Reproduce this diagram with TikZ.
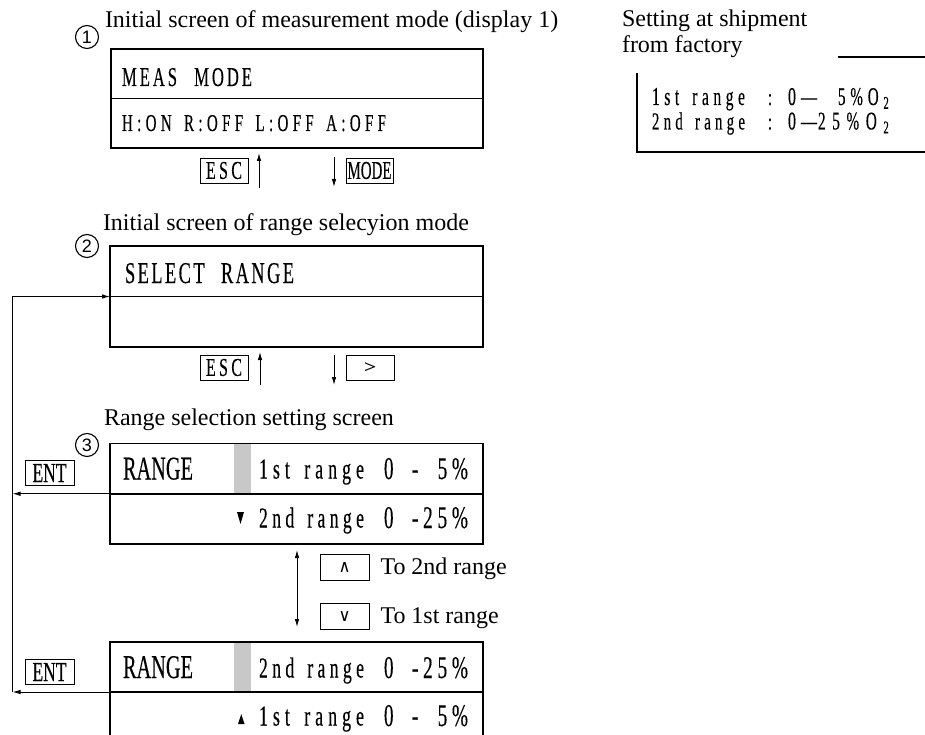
\documentclass[tikz,border=0pt]{standalone}
\usepackage{fontspec}
\setmainfont{Liberation Serif}
\newfontfamily\lcdf[FakeStretch=0.62,FakeBold=0.25]{Liberation Serif}
\newfontfamily\digf{Liberation Sans}
\newfontfamily\symf{DejaVu Sans}
\usetikzlibrary{arrows.meta}
\ExplSyntaxOn
\NewDocumentCommand{\spc}{m m}{\tl_map_inline:nn {#2}{##1\hspace{#1}}\unskip}
\ExplSyntaxOff
\newcommand{\lcd}[4][0em]{\resizebox{#2pt}{#3pt}{\lcdf\spc{#1}{#4}}}
\definecolor{lcdgrey}{RGB}{200,200,200}
\begin{document}
\begin{tikzpicture}[x=1pt,y=-1pt,
  lcdbox/.style={draw, line width=1.5pt, inner sep=0pt, outer sep=0pt, anchor=north west},
  keybox/.style={draw, line width=0.9pt, inner sep=0pt, outer sep=0pt},
  txt/.style={inner sep=0pt, outer sep=0pt, anchor=base west},
  circ/.style={draw, circle, line width=1.1pt, minimum size=23pt, inner sep=0pt, font=\digf\fontsize{18}{18}\selectfont},
  arr/.style={-{Latex[length=8pt,width=4.5pt]}, line width=0.9pt},
  darr/.style={{Latex[length=8pt,width=4.5pt]}-{Latex[length=8pt,width=4.5pt]}, line width=0.9pt},
  title/.style={inner sep=0pt, outer sep=0pt, anchor=base west, font=\fontsize{24}{28}\selectfont},
]
\useasboundingbox (0,0) rectangle (925,735);

% ---------- titles ----------
\node[title] (t1) at (105,28) {Initial screen of measurement mode (display 1)};
\node[title] (t2) at (103,230) {Initial screen of range selecyion mode};
\node[title] (t3) at (104,425) {Range selection setting screen};
\node[title] (t4) at (622,27) {Setting at shipment};
\node[title] (t5) at (622,53) {from factory};

% ---------- circled numbers ----------
\node[circ] (c1) at (87,37) {1};
\node[circ] (c2) at (87,246) {2};
\node[circ] (c3) at (87,445) {3};

% ---------- grey cursor bars ----------
\fill[lcdgrey] (233.5,443.5) rectangle (251,493.75);
\fill[lcdgrey] (233.5,642) rectangle (251,692);

% ---------- screens ----------
\node[lcdbox, minimum width=372pt, minimum height=99pt] (scr1) at (111,49) {};
\draw[line width=1.5pt] (scr1.west) -- (scr1.east);
\node[txt] (m1) at (122,86) {\lcd[0.11em]{130}{18}{MEAS~~MODE}};
\node[txt] (m2) at (122,131) {\lcd[0.18em]{264}{16}{H:ON~R:OFF~L:OFF~A:OFF}};

\node[lcdbox, minimum width=373pt, minimum height=101pt] (scr2) at (110,246) {};
\draw[line width=1.5pt] (scr2.west) -- (scr2.east);
\node[txt] (s1) at (125,283) {\lcd[0.08em]{169}{20}{SELECT~~RANGE}};

\node[lcdbox, minimum width=373pt, minimum height=100.5pt] (scr3) at (110,443.5) {};
\draw[line width=1.5pt] (scr3.west) -- (scr3.east);
\node[txt] (r3a) at (123,479.5) {\lcd{70}{22}{RANGE}};
\node[txt] (r3b) at (259,478.5) {\lcd[0.17em]{105}{19}{1st~range}};
\node[txt] (r3c) at (384,479) {\lcd{9.5}{21}{0}};
\node[txt] (r3e) at (412,479) {\lcd{56}{21}{{-\hspace{0.62em}5\hspace{0.15em}\%}}};
\fill (237,512) -- (244,512) -- (240.5,524) -- cycle;
\node[txt] (r3f) at (259,527.5) {\lcd[0.15em]{105}{20}{2nd~range}};
\node[txt] (r3g) at (384,528) {\lcd{9.5}{21}{0}};
\node[txt] (r3i) at (412,528) {\lcd[0.15em]{56}{21}{-25\%}};

\node[lcdbox, draw=none, minimum width=373pt, minimum height=100pt] (scr4) at (110,642) {};
\draw[line width=1.5pt] ([yshift=-43pt]scr4.west) -- (scr4.north west) -- (scr4.north east) -- ([yshift=-43pt]scr4.east);
\draw[line width=1.5pt] (scr4.west) -- (scr4.east);
\node[txt] (r4a) at (123,678) {\lcd{70}{22}{RANGE}};
\node[txt] (r4b) at (259,677.5) {\lcd[0.15em]{105}{20}{2nd~range}};
\node[txt] (r4c) at (384,678) {\lcd{9.5}{21}{0}};
\node[txt] (r4e) at (412,678) {\lcd[0.15em]{56}{21}{-25\%}};
\fill (238,724) -- (244.5,724) -- (241.25,714) -- cycle;
\node[txt] (r4f) at (259,725.5) {\lcd[0.17em]{105}{19}{1st~range}};
\node[txt] (r4g) at (384,726) {\lcd{9.5}{21}{0}};
\node[txt] (r4i) at (412,726) {\lcd{56}{21}{{-\hspace{0.62em}5\hspace{0.15em}\%}}};

% ---------- keys ----------
\node[keybox, minimum width=48pt, minimum height=25pt] (esc1) at (224,170.5) {\lcd[0.13em]{36}{17}{ESC}};
\node[keybox, minimum width=47pt, minimum height=25pt] (mode) at (369.5,170.5) {\lcd{44}{17}{MODE}};
\node[keybox, minimum width=48pt, minimum height=25pt] (esc2) at (224,367.5) {\lcd[0.13em]{36}{17}{ESC}};
\node[keybox, minimum width=48pt, minimum height=25pt] (right) at (370,367.5) {\resizebox{12pt}{10pt}{\lcdf >}};
\node[keybox, minimum width=49pt, minimum height=25.5pt] (ent1) at (49.5,473) {\lcd{34}{18}{ENT}};
\node[keybox, minimum width=49pt, minimum height=25.5pt] (ent2) at (49.5,672) {\lcd{34}{18}{ENT}};
\node[keybox, minimum width=49pt, minimum height=26pt] (upk) at (344.5,567) {\resizebox{12pt}{10pt}{\symf ∧}};
\node[keybox, minimum width=49pt, minimum height=26pt] (dnk) at (344.5,616) {\resizebox{12pt}{10pt}{\symf ∨}};
\node[title] (to2) at (380.5,574) {To 2nd range};
\node[title] (to1) at (380.5,623.5) {To 1st range};

% ---------- key arrows ----------
\coordinate (a1s) at (259,188); \coordinate (a1e) at (259,153);
\coordinate (a2s) at (334,157); \coordinate (a2e) at (334,187);
\coordinate (a3s) at (260,385); \coordinate (a3e) at (260,352);
\coordinate (a4s) at (334,355); \coordinate (a4e) at (334,385);
\coordinate (a5s) at (297,550); \coordinate (a5e) at (297,627);
\draw[arr] (a1s) -- (a1e);
\draw[arr] (a2s) -- (a2e);
\draw[arr] (a3s) -- (a3e);
\draw[arr] (a4s) -- (a4e);
\draw[darr] (a5s) -- (a5e);

% ---------- ENT return path ----------
\coordinate (rail) at (12.5,0);
\draw[arr] (rail |- scr4.west) -- (rail |- scr2.west) -- (scr2.west);
\draw[arr] (scr3.west) -- (rail |- scr3.west);
\draw[arr] (scr4.west) -- (rail |- scr4.west);

% ---------- factory setting panel ----------
\draw[line width=1.4pt] (838,57) -- (925,57);
\draw[line width=1.4pt] (637,73) -- (637,152) -- (925,152);
\node[txt] (f1a) at (652,105) {\lcd[0.18em]{93}{17}{1st~range}};
\node[txt] (f1b) at (768,105) {\lcd{4}{11}{:}};
\node[txt] (f1c) at (788,105) {\lcd[0.2em]{29}{17}{0—}};
\node[txt] (f1d) at (838,105) {\lcd[0.2em]{52}{17}{5\%O{\textsubscript{2}}}};
\node[txt] (f2a) at (652,129.5) {\lcd[0.18em]{93}{17}{2nd~range}};
\node[txt] (f2b) at (768,129.5) {\lcd{4}{11}{:}};
\node[txt] (f2c) at (788,129.5) {\lcd[0.2em]{29}{17}{0—}};
\node[txt] (f2d) at (818,129.5) {\lcd[0.27em]{72}{17}{25\%O{\textsubscript{2}}}};
\end{tikzpicture}
\end{document}
